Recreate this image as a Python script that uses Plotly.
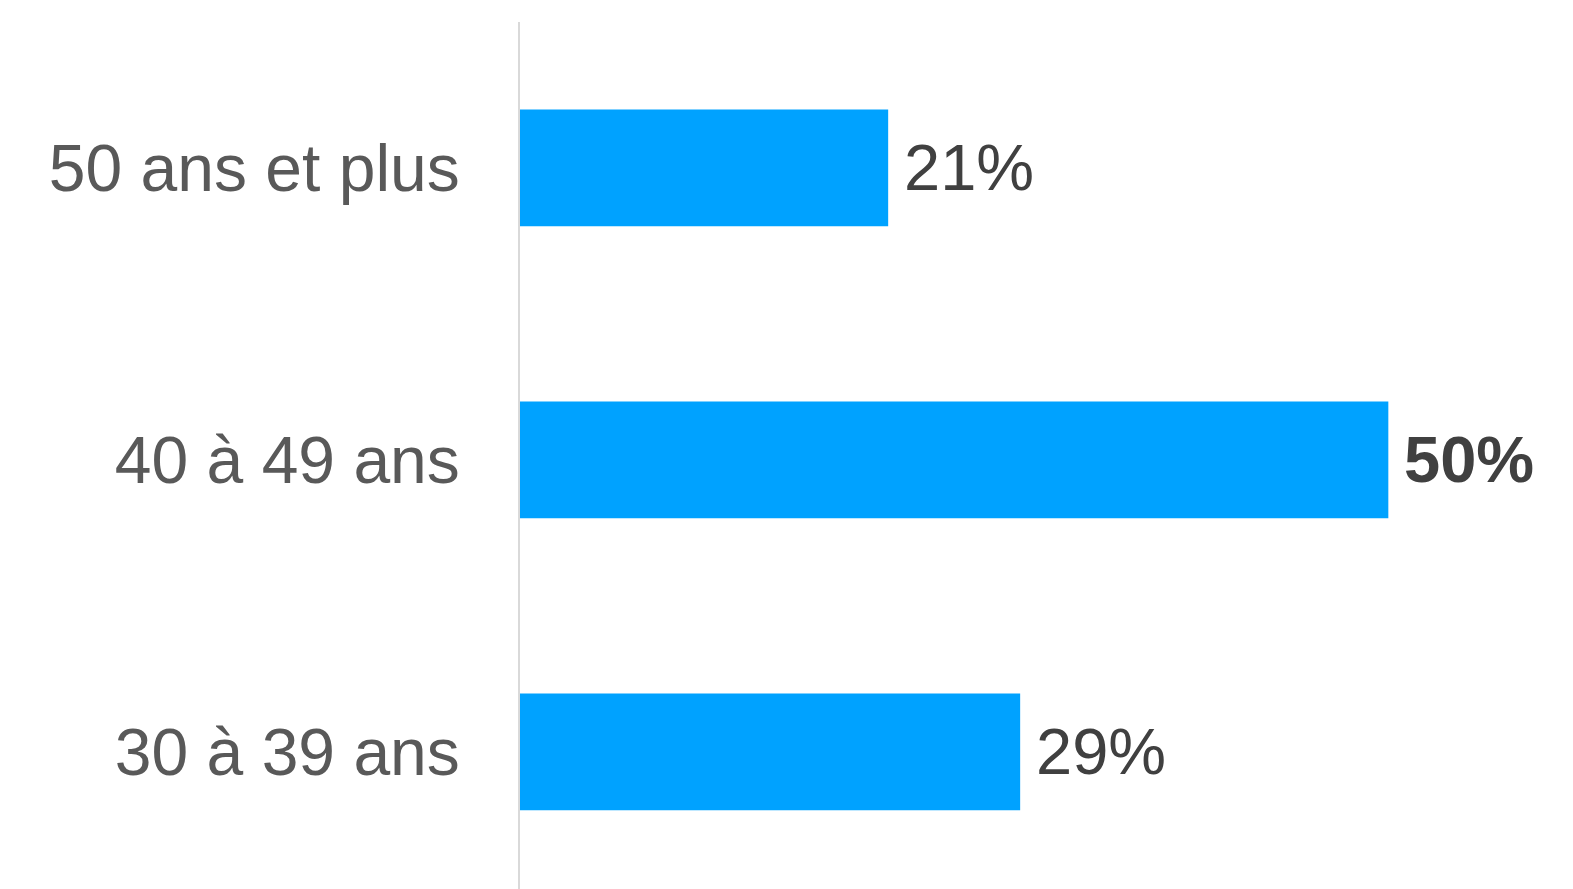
import plotly.graph_objects as go

categories = ["30 à 39 ans", "40 à 49 ans", "50 ans et plus"]
values = [28.8, 50.0, 21.2]
labels = ["29%", "<b>50%</b>", "21%"]

fig = go.Figure()
fig.add_trace(go.Bar(
    y=categories, x=values, orientation="h",
    marker=dict(color="#00A2FF", line=dict(width=0)),
    width=0.4, hoverinfo="skip",
))

for c, v, t in zip(categories, values, labels):
    fig.add_annotation(x=v, y=c, text=t, showarrow=False, xanchor="left",
                       yanchor="middle", xshift=14,
                       font=dict(family="Liberation Sans, Arial", size=65, color="#404040"))

fig.update_layout(
    width=1573, height=889,
    margin=dict(l=512, r=19, t=14, b=0),
    paper_bgcolor="white", plot_bgcolor="white",
    showlegend=False,
    xaxis=dict(range=[0, 60], visible=False),
    yaxis=dict(type="category", categoryorder="array", categoryarray=categories,
               range=[-0.497, 2.5], showline=True, linecolor="#d9d9d9", linewidth=2,
               showgrid=False, zeroline=False, ticks="",
               ticklabelstandoff=45,
               tickfont=dict(family="Liberation Sans, Arial", size=66, color="#595959")),
)

fig.write_html("out.html")
